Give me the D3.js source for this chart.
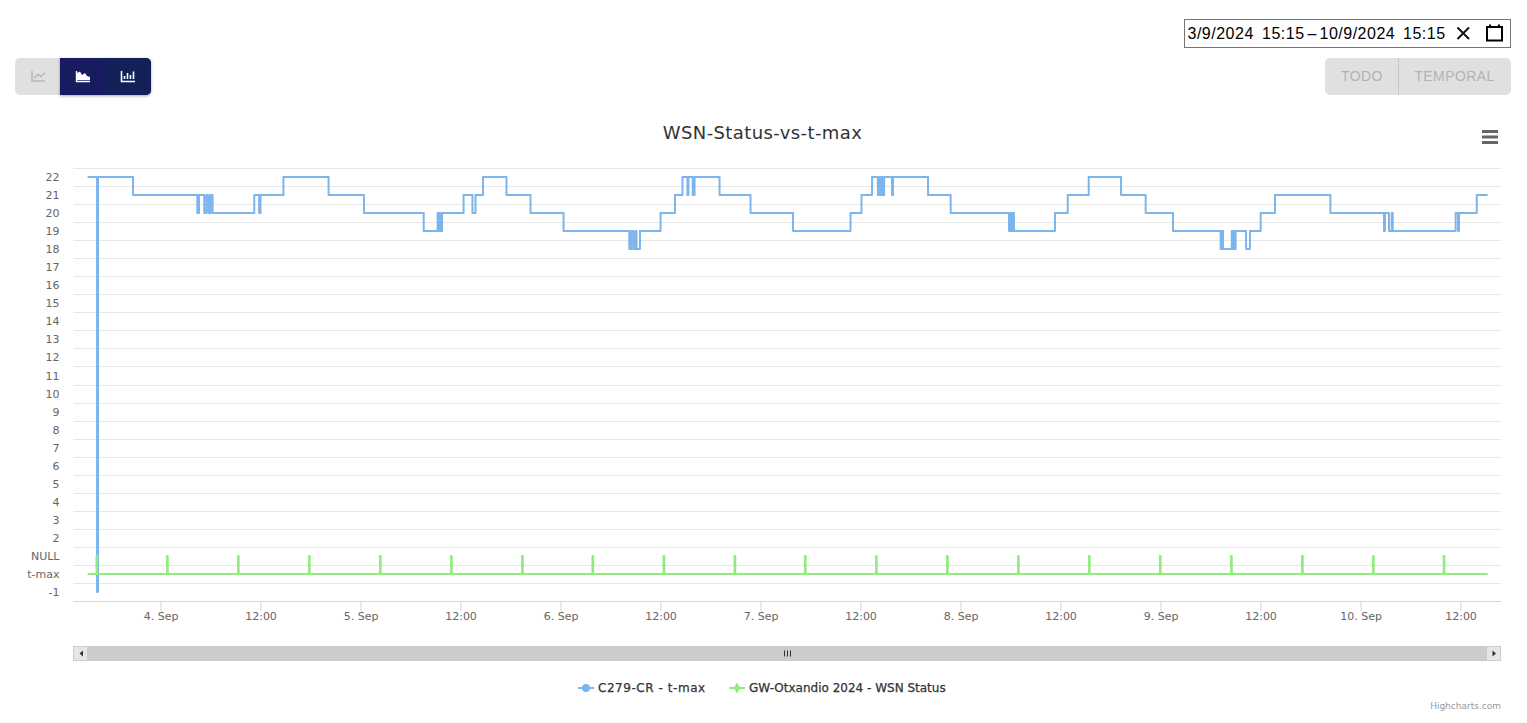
<!DOCTYPE html>
<html>
<head>
<meta charset="utf-8">
<script src="https://cdn.jsdelivr.net/npm/d3@7/dist/d3.min.js"></script>
<style>
  body { margin: 0; background: #fff; overflow: hidden; }
  text { font-family: "DejaVu Sans", sans-serif; }
  .ui text { font-family: "Liberation Sans", Arial, sans-serif; }
</style>
</head>
<body>
<div id="chart"></div>
<script>
const titleText = "WSN-Status-vs-t-max";
const seriesNames = ["C279-CR - t-max", "GW-Otxandio 2024 - WSN Status"];
const seriesColors = ["#7cb5ec", "#90ed7d"];

// y axis is a category axis, index 0 = value -1
const yCategories = ["-1", "t-max", "NULL", "2", "3", "4", "5", "6", "7", "8", "9", "10", "11",
  "12", "13", "14", "15", "16", "17", "18", "19", "20", "21", "22"];

const rangeStart = "09-03 15:15";
const rangeEnd = "09-10 15:15";

// t-max, only the samples where the value changes
const tmaxTimes = [
  "09-03 15:15", "09-03 16:23", "09-03 16:30", "09-03 20:42",
  "09-04 04:25", "09-04 04:37", "09-04 05:15", "09-04 05:30", "09-04 05:45", "09-04 06:00", "09-04 06:15",
  "09-04 11:15", "09-04 11:50", "09-04 12:00", "09-04 14:45", "09-04 20:10",
  "09-05 00:25", "09-05 07:35", "09-05 09:15", "09-05 09:22", "09-05 09:30", "09-05 09:37", "09-05 09:47",
  "09-05 12:22", "09-05 13:26", "09-05 13:48", "09-05 14:42", "09-05 17:31", "09-05 20:24",
  "09-06 00:22", "09-06 08:15", "09-06 08:30", "09-06 08:45", "09-06 09:00", "09-06 09:07", "09-06 09:32",
  "09-06 12:00", "09-06 13:44", "09-06 14:38", "09-06 15:14", "09-06 15:21", "09-06 15:52", "09-06 16:05",
  "09-06 19:05", "09-06 22:48",
  "09-07 03:54", "09-07 10:48", "09-07 12:07", "09-07 13:23", "09-07 14:05", "09-07 14:15", "09-07 14:25",
  "09-07 14:35", "09-07 14:45", "09-07 14:50", "09-07 15:47", "09-07 15:54", "09-07 20:06", "09-07 22:49",
  "09-08 05:49", "09-08 05:56", "09-08 06:04", "09-08 06:15", "09-08 06:25", "09-08 11:20", "09-08 12:52",
  "09-08 15:23", "09-08 19:16", "09-08 22:13",
  "09-09 01:30", "09-09 07:13", "09-09 07:20", "09-09 07:30", "09-09 08:33", "09-09 08:40", "09-09 08:47",
  "09-09 08:54", "09-09 09:01", "09-09 10:16", "09-09 10:44", "09-09 12:01", "09-09 13:44", "09-09 20:23",
  "09-10 02:49", "09-10 02:56", "09-10 03:25", "09-10 03:45", "09-10 03:52", "09-10 11:25", "09-10 11:42",
  "09-10 11:49", "09-10 13:57", "09-10 15:15"
];
const tmaxValues = [
  22, -1, 22, 21,
  20, 21, 20, 21, 20, 21, 20,
  21, 20, 21, 22, 21,
  20, 19, 20, 19, 20, 19, 20,
  21, 20, 21, 22, 21, 20,
  19, 18, 19, 18, 19, 18, 19,
  20, 21, 22, 21, 22, 21, 22,
  21, 20,
  19, 20, 21, 22, 21, 22, 21,
  22, 21, 22, 21, 22, 21, 20,
  19, 20, 19, 20, 19, 20, 21,
  22, 21, 20,
  19, 18, 19, 18, 19, 18, 19,
  18, 19, 18, 19, 20, 21, 20,
  19, 20, 19, 20, 19, 20, 19,
  20, 21, 21
];

// WSN status is 0 apart from one short pulse to 1 at each of these times
const statusPulses = [
  "09-03 16:19", "09-04 00:47", "09-04 09:18", "09-04 17:49", "09-05 02:20", "09-05 10:52", "09-05 19:23",
  "09-06 03:50", "09-06 12:22", "09-06 20:53", "09-07 05:20", "09-07 13:52", "09-07 22:23", "09-08 06:54",
  "09-08 15:25", "09-08 23:56", "09-09 08:28", "09-09 16:59", "09-10 01:30", "09-10 09:59"
];

const parseTime = d3.timeParse("%m-%d %H:%M");

const svg = d3.select("#chart").append("svg")
  .attr("width", 1527)
  .attr("height", 723);

const defs = svg.append("defs");
const shadow = defs.append("filter").attr("id", "btnShadow")
  .attr("x", "-10%").attr("y", "-20%").attr("width", "120%").attr("height", "150%");
shadow.append("feDropShadow").attr("dx", 0).attr("dy", 1).attr("stdDeviation", 1.5)
  .attr("flood-color", "#000").attr("flood-opacity", 0.35);

// --- plot area
const plot = {left: 73.5, right: 1501, top: 168.5, bottom: 601.5};

const x = d3.scaleTime()
  .domain([parseTime(rangeStart), parseTime(rangeEnd)])
  .range([87.6, 1487.6]);

const yBand = d3.scaleBand()
  .domain(yCategories)
  .range([plot.bottom, plot.top]);

// -0.5 keeps the 2px lines on whole pixels like the original
const yValue = v => Math.round(yBand(yCategories[v + 1]) + yBand.bandwidth() / 2 - 0.5);

// gridlines sit between categories
const gridPositions = yCategories.map(c => yBand(c));
gridPositions.push(plot.top);
svg.append("g").selectAll("line")
  .data(gridPositions.filter(d => d < plot.bottom - 1))
  .join("line")
    .attr("x1", plot.left)
    .attr("x2", plot.right)
    .attr("y1", d => Math.floor(d) + 0.5)
    .attr("y2", d => Math.floor(d) + 0.5)
    .attr("stroke", "#e6e6e6");

// Y labels
svg.append("g")
  .attr("transform", "translate(59.5,0)")
  .call(d3.axisLeft(yBand).tickSize(0).tickPadding(0))
  .call(g => g.select(".domain").remove())
  .selectAll("text")
    .attr("font-family", "DejaVu Sans")
    .attr("font-size", "11px")
    .attr("fill", "#666666");

// X axis
const xTicks = d3.timeHour.every(12).range(parseTime("09-04 00:00"), parseTime(rangeEnd));
const xAxis = d3.axisBottom(x)
  .tickValues(xTicks)
  .tickSize(10)
  .tickPadding(1)
  .tickSizeOuter(0)
  .tickFormat(d => d.getHours() === 0 ? d3.timeFormat("%-d. %b")(d) : "12:00");

svg.append("g")
  .attr("transform", `translate(0,${plot.bottom})`)
  .call(xAxis)
  .call(g => g.select(".domain")
    .attr("d", `M${plot.left},0H${plot.right}`)
    .attr("stroke", "#ccd6eb"))
  .call(g => g.selectAll(".tick line").attr("stroke", "#ccd6eb"))
  .call(g => g.selectAll(".tick text")
    .attr("font-family", "DejaVu Sans")
    .attr("font-size", "11px")
    .attr("fill", "#666666"));

// --- series
const line = d3.line()
  .x(d => x(d.t))
  .y(d => yValue(d.v))
  .curve(d3.curveStepAfter);

const tmaxData = tmaxTimes.map((t, i) => ({t: parseTime(t), v: tmaxValues[i]}));

const statusData = [{t: parseTime(rangeStart), v: 0}];
statusPulses.forEach(p => {
  const t = parseTime(p);
  statusData.push({t: t, v: 1});
  statusData.push({t: d3.timeMinute.offset(t, 5), v: 0});
});
statusData.push({t: parseTime(rangeEnd), v: 0});

svg.append("path")
  .datum(tmaxData)
  .attr("fill", "none")
  .attr("stroke", seriesColors[0])
  .attr("stroke-width", 2)
  .attr("stroke-linejoin", "round")
  .attr("d", line);

svg.append("path")
  .datum(statusData)
  .attr("fill", "none")
  .attr("stroke", seriesColors[1])
  .attr("stroke-width", 2)
  .attr("stroke-linejoin", "round")
  .attr("d", line);

// --- title
svg.append("text")
  .attr("x", 762.5)
  .attr("y", 139)
  .attr("text-anchor", "middle")
  .attr("font-size", "18px")
  .attr("letter-spacing", "0.4px")
  .attr("fill", "#333333")
  .text(titleText);

// context menu burger
svg.append("g").selectAll("line")
  .data([131.5, 137, 142.5])
  .join("line")
    .attr("x1", 1482).attr("x2", 1498)
    .attr("y1", d => d).attr("y2", d => d)
    .attr("stroke", "#666666")
    .attr("stroke-width", 3);

// --- scrollbar
const scroll = svg.append("g");
scroll.append("rect").attr("x", 73).attr("y", 646).attr("width", 1428).attr("height", 15).attr("fill", "#cccccc");
scroll.append("rect").attr("x", 74).attr("y", 647).attr("width", 13).attr("height", 13).attr("fill", "#e6e6e6");
scroll.append("rect").attr("x", 1487).attr("y", 647).attr("width", 13).attr("height", 13).attr("fill", "#e6e6e6");
scroll.append("path").attr("d", "M83,650.5V656.5L79.5,653.5Z").attr("fill", "#333333");
scroll.append("path").attr("d", "M1492.5,650.5V656.5L1496,653.5Z").attr("fill", "#333333");
scroll.append("path")
  .attr("d", "M784.5,650.5V656.5M787.5,650.5V656.5M790.5,650.5V656.5")
  .attr("stroke", "#333333");

// --- legend
const legendX = [578, 729];
const legendSpacing = ["0.55px", "0"];
const legendMarkers = [d3.symbolCircle, d3.symbolDiamond];
const legend = svg.append("g").selectAll("g")
  .data(seriesNames)
  .join("g")
    .attr("transform", (d, i) => `translate(${legendX[i]},688)`);
legend.append("line")
  .attr("x1", 0).attr("x2", 16)
  .attr("stroke", (d, i) => seriesColors[i])
  .attr("stroke-width", 2);
legend.append("path")
  .attr("transform", "translate(8,0)")
  .attr("d", (d, i) => d3.symbol(legendMarkers[i], i === 0 ? 50 : 36)())
  .attr("fill", (d, i) => seriesColors[i]);
legend.append("text")
  .attr("x", 20)
  .attr("y", 4)
  .attr("font-size", "12px")
  .attr("letter-spacing", (d, i) => legendSpacing[i])
  .attr("stroke", "#333333")
  .attr("stroke-width", 0.25)
  .attr("fill", "#333333")
  .text(d => d);

svg.append("text")
  .attr("x", 1501)
  .attr("y", 709)
  .attr("text-anchor", "end")
  .attr("font-size", "9px")
  .attr("fill", "#999999")
  .text("Highcharts.com");

// --- page controls above the chart
const ui = svg.append("g").attr("class", "ui");

ui.append("rect")
  .attr("x", 1184.5).attr("y", 19.5).attr("width", 326).attr("height", 28)
  .attr("fill", "#fff").attr("stroke", "#767676");
const dateBits = [
  {x: 1187.5, s: "3/9/2024"}, {x: 1262, s: "15:15"}, {x: 1307.5, s: "–"},
  {x: 1319.5, s: "10/9/2024"}, {x: 1403, s: "15:15"}
];
ui.selectAll(".dateBit").data(dateBits).join("text")
  .attr("class", "dateBit")
  .attr("x", d => d.x)
  .attr("y", 39)
  .attr("font-size", "16px")
  .attr("letter-spacing", "0.5px")
  .attr("fill", "#000")
  .text(d => d.s);
ui.append("path")
  .attr("d", "M1457.5,27.5L1469,39M1469,27.5L1457.5,39")
  .attr("stroke", "#111").attr("stroke-width", 2).attr("fill", "none");
ui.append("path")
  .attr("d", "M1487,27H1502V40.5H1487ZM1490,24.5V27M1499,24.5V27")
  .attr("stroke", "#000").attr("stroke-width", 2).attr("fill", "none");

// left button group
ui.append("path")
  .attr("d", "M60,58H20a5,5 0 0 0 -5,5V90a5,5 0 0 0 5,5H60Z")
  .attr("fill", "#e0e0e0");
ui.append("path")
  .attr("d", "M60,58H146a5,5 0 0 1 5,5V90a5,5 0 0 1 -5,5H60Z")
  .attr("fill", "#141a5e")
  .attr("filter", "url(#btnShadow)");
ui.append("path")
  .attr("d", "M105,58H146a5,5 0 0 1 5,5V90a5,5 0 0 1 -5,5H105Z")
  .attr("fill", "#142058");

// line icon
ui.append("path")
  .attr("d", "M32,71V81H45M34,78L38,74.5L41,76.5L45,72.5")
  .attr("stroke", "#b8b8b8").attr("stroke-width", 1.6).attr("fill", "none");
// area icon
ui.append("path")
  .attr("d", "M77,80V73L80,71.5L82,75L85,73L87,76L90,77V80Z")
  .attr("fill", "#fff");
ui.append("path")
  .attr("d", "M76.5,71V81.5H90")
  .attr("stroke", "#fff").attr("stroke-width", 1.4).attr("fill", "none");
// bar icon
ui.append("path")
  .attr("d", "M121.5,71V81.5H135M124.5,79V76M127.5,79V73M130.5,79V75M133.5,79V71.5")
  .attr("stroke", "#fff").attr("stroke-width", 1.6).attr("fill", "none");

// right button group
ui.append("rect")
  .attr("x", 1325).attr("y", 58).attr("width", 186).attr("height", 37).attr("rx", 5)
  .attr("fill", "#e0e0e0");
ui.append("line")
  .attr("x1", 1398.5).attr("x2", 1398.5).attr("y1", 58).attr("y2", 95)
  .attr("stroke", "#c6c6c6");
ui.append("text")
  .attr("x", 1362).attr("y", 81)
  .attr("text-anchor", "middle")
  .attr("font-size", "14px")
  .attr("letter-spacing", "0.4px")
  .attr("fill", "#b3b3b3")
  .text("TODO");
ui.append("text")
  .attr("x", 1454.5).attr("y", 81)
  .attr("text-anchor", "middle")
  .attr("font-size", "14px")
  .attr("letter-spacing", "0.4px")
  .attr("fill", "#b3b3b3")
  .text("TEMPORAL");
</script>
</body>
</html>
